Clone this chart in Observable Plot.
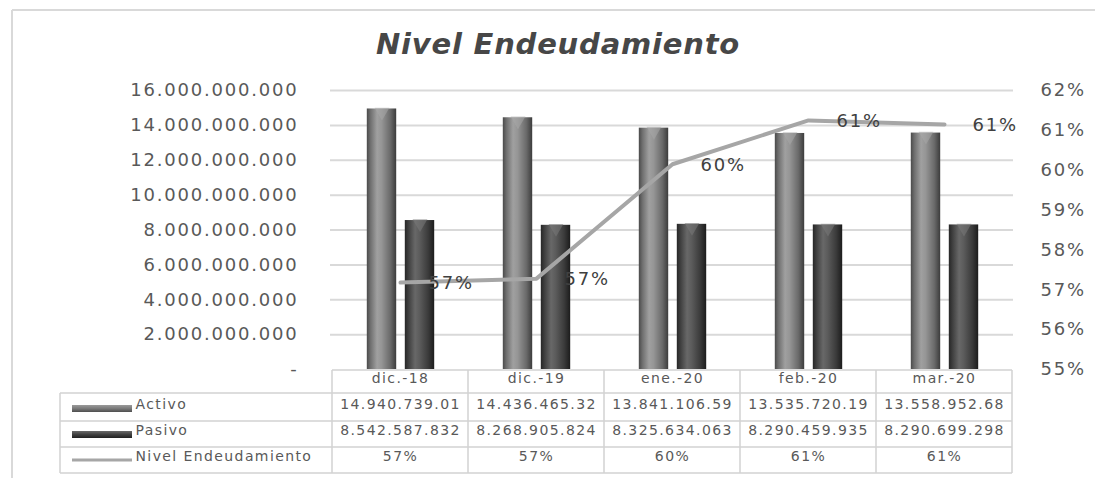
<!DOCTYPE html>
<html><head><meta charset="utf-8">
<script src="https://cdn.jsdelivr.net/npm/d3@7"></script>
<script src="https://cdn.jsdelivr.net/npm/@observablehq/plot@0.6"></script>
<style>
body{margin:0;background:#fff;}
#wrap{position:relative;width:1095px;height:478px;overflow:hidden;}
#title{position:absolute;left:0;top:27px;width:1116px;text-align:center;font-family:"DejaVu Sans";font-weight:bold;font-style:italic;font-size:29px;color:#474747;letter-spacing:0.8px;}
svg text{font-family:"DejaVu Sans";}
g[font-size="18"] text{letter-spacing:1.8px;}
g[font-size="14"] text{letter-spacing:1.4px;}
</style>
</head><body>
<div id="wrap"><div id="chart"></div><div id="title">Nivel Endeudamiento</div></div>
<script>
const categories = ["dic.-18","dic.-19","ene.-20","feb.-20","mar.-20"];
const activo = [14940739010, 14436465320, 13841106590, 13535720190, 13558952680];
const pasivo = [8542587832, 8268905824, 8325634063, 8290459935, 8290699298];
const nivel = [0.5718, 0.5728, 0.6015, 0.6125, 0.6115];
const nivelLabels = ["57%","57%","60%","61%","61%"];
const activoLabels = ["14.940.739.01","14.436.465.32","13.841.106.59","13.535.720.19","13.558.952.68"];
const pasivoLabels = ["8.542.587.832","8.268.905.824","8.325.634.063","8.290.459.935","8.290.699.298"];
const rowLabels = ["Activo","Pasivo","Nivel Endeudamiento"];
const leftTicks = [0,2e9,4e9,6e9,8e9,10e9,12e9,14e9,16e9];
const rightTicks = [0.55,0.56,0.57,0.58,0.59,0.60,0.61,0.62];

const yMax = 16e9, pMin = 0.55, pMax = 0.62;
const toY = p => (p - pMin) / (pMax - pMin) * yMax;
const fromY = v => v / yMax * (pMax - pMin) + pMin;

const data = categories.map((c,i)=>({cat:c, activo:activo[i], pasivo:pasivo[i], nivel:nivel[i],
  nivelLabel:nivelLabels[i], activoLabel:activoLabels[i], pasivoLabel:pasivoLabels[i]}));

const W = 1095, H = 478, mL = 330, mR = 82, mT = 90, mB = 109;
const textCol = "#595959";
const rowDy = [39, 65, 91];

const plot = Plot.plot({
  width: W, height: H, marginLeft: mL, marginRight: mR, marginTop: mT, marginBottom: mB,
  style: {background: "transparent", color: textCol, overflow: "visible"},
  x: {domain: categories, padding: 0, axis: null},
  y: {domain: [0, yMax]},
  marks: [
    Plot.ruleY(leftTicks.slice(1), {stroke: "#d9d9d9", strokeWidth: 2}),
    Plot.axisY({ticks: leftTicks, anchor: "left", tickSize: 0, tickPadding: 32, fontSize: 18, fill: textCol,
      tickFormat: v => v === 0 ? "-" : d3.format(",")(v).replace(/,/g, ".")}),
    Plot.axisY({ticks: rightTicks.map(toY), anchor: "right", tickSize: 0, tickPadding: 27, fontSize: 18, fill: textCol,
      tickFormat: v => Math.round(fromY(v) * 100) + "%"}),
    Plot.barY(data, {x: "cat", y: "activo", fill: "url(#gradA)", insetLeft: 34.8, insetRight: 71.8}),
    Plot.barY(data, {x: "cat", y: "pasivo", fill: "url(#gradP)", insetLeft: 72.8, insetRight: 33.8}),
    Plot.dot(data, {x: "cat", y: "activo", dx: -18.5, dy: 3, symbol: "triangle", rotate: 180, r: 5.5, fill: "#a8a8a8", fillOpacity: 0.55, stroke: "none"}),
    Plot.dot(data, {x: "cat", y: "pasivo", dx: 19.5, dy: 3, symbol: "triangle", rotate: 180, r: 5.5, fill: "#7a7a7a", fillOpacity: 0.55, stroke: "none"}),
    Plot.line(data, {x: "cat", y: d => toY(d.nivel), stroke: "#a6a6a6", strokeWidth: 4}),
    Plot.text(data, {x: "cat", y: d => toY(d.nivel), text: "nivelLabel", textAnchor: "start", dx: 28, dy: 1, fontSize: 18, fill: "#404040"}),
    // table
    Plot.text(data, {x: "cat", text: "cat", frameAnchor: "bottom", dy: 13, fontSize: 14, fill: textCol}),
    Plot.text(data, {x: "cat", text: "activoLabel", frameAnchor: "bottom", dy: rowDy[0], fontSize: 14, fill: textCol}),
    Plot.text(data, {x: "cat", text: "pasivoLabel", frameAnchor: "bottom", dy: rowDy[1], fontSize: 14, fill: textCol}),
    Plot.text(data, {x: "cat", text: "nivelLabel", frameAnchor: "bottom", dy: rowDy[2], fontSize: 14, fill: textCol}),
    ...rowLabels.map((r, i) => Plot.text([r], {text: d => d, frameAnchor: "bottom-left", dx: -195, dy: rowDy[i], fontSize: 14, fill: textCol, textAnchor: "start"}))
  ]
});

document.getElementById("chart").appendChild(plot);
const svg = d3.select(plot);
svg.attr("width", W).attr("height", H);

// gradients
const defs = svg.insert("defs", ":first-child");
function grad(id, stops, vertical) {
  const g = defs.append("linearGradient").attr("id", id).attr("x1", 0).attr("y1", 0)
    .attr("x2", vertical ? 0 : 1).attr("y2", vertical ? 1 : 0);
  stops.forEach(([o, c]) => g.append("stop").attr("offset", o).attr("stop-color", c));
}
grad("gradA", [[0, "#4a4a4a"], [0.12, "#6e6e6e"], [0.35, "#a0a0a0"], [0.5, "#969696"], [0.8, "#6a6a6a"], [1, "#3c3c3c"]]);
grad("gradP", [[0, "#262626"], [0.12, "#3e3e3e"], [0.35, "#686868"], [0.5, "#5c5c5c"], [0.8, "#3a3a3a"], [1, "#1c1c1c"]]);
grad("gradAs", [[0, "#9a9a9a"], [0.5, "#7a7a7a"], [1, "#4e4e4e"]], true);
grad("gradPs", [[0, "#6a6a6a"], [0.5, "#404040"], [1, "#202020"]], true);

// table borders from the x scale
const xs = plot.scale("x");
const bw = xs.bandwidth;
const edges = categories.map(c => xs.apply(c)); edges.push(xs.apply(categories[categories.length - 1]) + bw);
const bottom = H - mB;
const rowLines = [bottom + 24, bottom + 52, bottom + 78, bottom + 104];
const tableLeft = 60;
const bg = svg.append("g").attr("stroke", "#d2d2d2").attr("stroke-width", 1.5).attr("fill", "none");
bg.append("line").attr("x1", edges[0]).attr("x2", edges[edges.length - 1]).attr("y1", bottom + 1).attr("y2", bottom + 1);
rowLines.forEach(y => bg.append("line").attr("x1", tableLeft).attr("x2", edges[edges.length - 1]).attr("y1", y).attr("y2", y));
edges.forEach(x => bg.append("line").attr("x1", x).attr("x2", x).attr("y1", bottom + 1).attr("y2", rowLines[3]));
bg.append("line").attr("x1", tableLeft).attr("x2", tableLeft).attr("y1", rowLines[0]).attr("y2", rowLines[3]);

// legend keys
const sw = svg.append("g");
sw.append("rect").attr("x", 72).attr("y", bottom + 36).attr("width", 60).attr("height", 7).attr("fill", "url(#gradAs)");
sw.append("rect").attr("x", 72).attr("y", bottom + 62).attr("width", 60).attr("height", 7).attr("fill", "url(#gradPs)");
sw.append("line").attr("x1", 72).attr("x2", 132).attr("y1", bottom + 91).attr("y2", bottom + 91).attr("stroke", "#a6a6a6").attr("stroke-width", 3);

// outer chart frame
const fr = svg.append("g").attr("stroke", "#d9d9d9").attr("stroke-width", 2);
fr.append("line").attr("x1", 12).attr("x2", W).attr("y1", 10).attr("y2", 10);
fr.append("line").attr("x1", 12).attr("x2", 12).attr("y1", 10).attr("y2", H);
</script>
</body></html>
